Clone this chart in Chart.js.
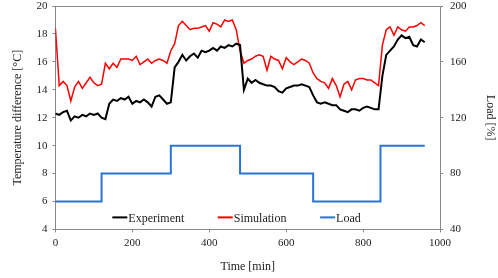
<!DOCTYPE html>
<html>
<head>
<meta charset="utf-8">
<script src="https://cdn.jsdelivr.net/npm/chart.js@4.4.0/dist/chart.umd.min.js"></script>
<style>
  html, body { margin: 0; padding: 0; background: #fff; }
  #wrap { width: 498px; height: 278px; }
</style>
</head>
<body>
<div id="wrap"><canvas id="tempChart" width="498" height="278"></canvas></div>
<script>
// time axis (min), sampled every 10 min
const times = [];
for (let t = 0; t <= 960; t += 10) times.push(t);

const experiment = [
  12.3, 12.2, 12.4, 12.5, 11.8, 12.1, 12.0, 12.2, 12.1, 12.3,
  12.2, 12.3, 12.0, 11.9, 13.0, 13.3, 13.2, 13.4, 13.3, 13.5,
  13.0, 13.2, 13.1, 13.3, 13.1, 12.8, 13.5, 13.6, 13.3, 13.0,
  13.1, 15.6, 16.0, 16.5, 16.1, 16.4, 16.6, 16.3, 16.8, 16.7,
  16.8, 17.0, 16.8, 17.1, 17.0, 17.2, 17.1, 17.3, 17.2, 14.0,
  14.8, 14.5, 14.7, 14.5, 14.4, 14.3, 14.3, 14.2, 13.9, 13.8,
  14.1, 14.2, 14.3, 14.3, 14.4, 14.3, 14.2, 13.6, 13.1, 13.0,
  13.1, 13.0, 12.9, 12.9, 12.6, 12.5, 12.4, 12.6, 12.6, 12.5,
  12.7, 12.8, 12.7, 12.6, 12.6, 15.0, 16.5, 16.8, 17.1, 17.6,
  17.9, 17.7, 17.8, 17.2, 17.1, 17.6, 17.4
];

const simulation = [
  18.4, 14.3, 14.6, 14.3, 13.2, 14.2, 14.6, 14.1, 14.5, 14.9,
  14.5, 14.3, 14.4, 15.9, 15.5, 15.9, 15.6, 16.2, 16.2, 16.2,
  16.1, 16.4, 15.8, 16.0, 16.2, 15.9, 16.1, 16.2, 16.1, 15.9,
  16.8, 17.3, 18.6, 18.9, 18.6, 18.3, 18.4, 18.4, 18.5, 18.6,
  18.2, 18.8, 18.7, 18.5, 19.0, 18.9, 19.0, 18.3, 16.8, 15.9,
  16.1, 16.2, 16.4, 16.5, 16.4, 15.4, 16.4, 16.2, 16.1, 15.5,
  16.3, 16.0, 15.8, 16.0, 16.2, 16.1, 15.9, 15.2, 14.8, 14.6,
  14.5, 14.1, 14.8, 14.3, 13.5, 14.4, 14.6, 14.0, 14.7, 14.8,
  14.8, 14.7, 14.7, 14.5, 14.3, 17.2, 18.3, 18.5, 17.9, 18.5,
  18.3, 18.2, 18.5, 18.5, 18.6, 18.8, 18.6
];

// load steps: value holds from each time until the next
const loadTimes = [0, 120, 300, 480, 670, 845, 960];
const loadValues = [60, 80, 100, 80, 60, 100, 100];

const xTicks = [0, 200, 400, 600, 800, 1000];

const FONT = "'Liberation Serif', 'Times New Roman', serif";
const BLUE = "#2a74d2";
const AXIS = "#888";

const toPoints = (xs, ys) => xs.map((x, i) => ({ x: x, y: ys[i] }));
const plain = (v) => String(v);

// frame line on top + legend drawn inside the plot area
const framePlugin = {
  id: "frameLegend",
  afterDraw(chart) {
    const { ctx, chartArea: a } = chart;
    ctx.save();
    ctx.strokeStyle = AXIS;
    ctx.lineWidth = 1;
    ctx.beginPath();
    ctx.moveTo(a.left, a.top + 0.5);
    ctx.lineTo(a.right, a.top + 0.5);
    ctx.stroke();

    const items = [
      { label: "Experiment", color: "#000", pos: 0.148 },
      { label: "Simulation", color: "#ff0000", pos: 0.422 },
      { label: "Load", color: BLUE, pos: 0.688 }
    ];
    const y = a.bottom - 12;
    ctx.font = "12px " + FONT;
    ctx.textBaseline = "middle";
    items.forEach((it) => {
      const x0 = a.left + it.pos * (a.right - a.left);
      ctx.strokeStyle = it.color;
      ctx.lineWidth = 2;
      ctx.beginPath();
      ctx.moveTo(x0, y);
      ctx.lineTo(x0 + 15, y);
      ctx.stroke();
      ctx.fillStyle = "#222";
      ctx.fillText(it.label, x0 + 16, y + 1);
    });
    ctx.restore();
  }
};

const tickFont = { family: FONT, size: 11 };
const titleFont = { family: FONT, size: 12 };
// short outward tick marks, no grid lines
const tickGrid = { display: true, drawOnChartArea: false, drawTicks: true, tickLength: 3, color: AXIS };

new Chart(document.getElementById("tempChart").getContext("2d"), {
  type: "line",
  data: {
    datasets: [
      {
        label: "Experiment",
        data: toPoints(times, experiment),
        borderColor: "#000",
        borderWidth: 2,
        pointRadius: 0,
        tension: 0,
        yAxisID: "y"
      },
      {
        label: "Simulation",
        data: toPoints(times, simulation),
        borderColor: "#ff0000",
        borderWidth: 1.5,
        pointRadius: 0,
        tension: 0,
        yAxisID: "y"
      },
      {
        label: "Load",
        data: toPoints(loadTimes, loadValues),
        borderColor: BLUE,
        borderWidth: 2,
        pointRadius: 0,
        stepped: "before",
        yAxisID: "y2"
      }
    ]
  },
  options: {
    responsive: false,
    animation: false,
    layout: { padding: { left: 11, right: 0, top: 0, bottom: 4 } },
    plugins: {
      legend: { display: false },
      tooltip: { enabled: false }
    },
    scales: {
      x: {
        type: "linear",
        min: 0,
        max: 1000,
        afterBuildTicks: (axis) => { axis.ticks = xTicks.map((v) => ({ value: v })); },
        afterFit: (s) => { s.paddingLeft = 0; s.paddingRight = 0; },
        grid: tickGrid,
        border: { display: true, color: AXIS },
        ticks: { color: "#222", font: tickFont, padding: 4, callback: plain },
        title: {
          display: true,
          text: "Time [min]",
          color: "#222",
          font: titleFont,
          padding: { top: 6, bottom: 0 }
        }
      },
      y: {
        position: "left",
        min: 4,
        max: 20,
        afterFit: (s) => { s.paddingTop = 6; },
        ticks: { stepSize: 2, color: "#222", font: tickFont, padding: 5, callback: plain },
        grid: tickGrid,
        border: { display: true, color: AXIS },
        title: {
          display: true,
          text: "Temperature difference [°C]",
          color: "#222",
          font: titleFont,
          padding: { top: 0, bottom: 6 }
        }
      },
      y2: {
        position: "right",
        min: 40,
        max: 200,
        afterFit: (s) => { s.paddingTop = 6; },
        ticks: { stepSize: 40, color: "#222", font: tickFont, padding: 7, callback: plain },
        grid: tickGrid,
        border: { display: true, color: AXIS },
        title: {
          display: true,
          text: "Load [%]",
          color: "#222",
          font: titleFont,
          padding: { top: 1, bottom: 9 }
        }
      }
    }
  },
  plugins: [framePlugin]
});
</script>
</body>
</html>
